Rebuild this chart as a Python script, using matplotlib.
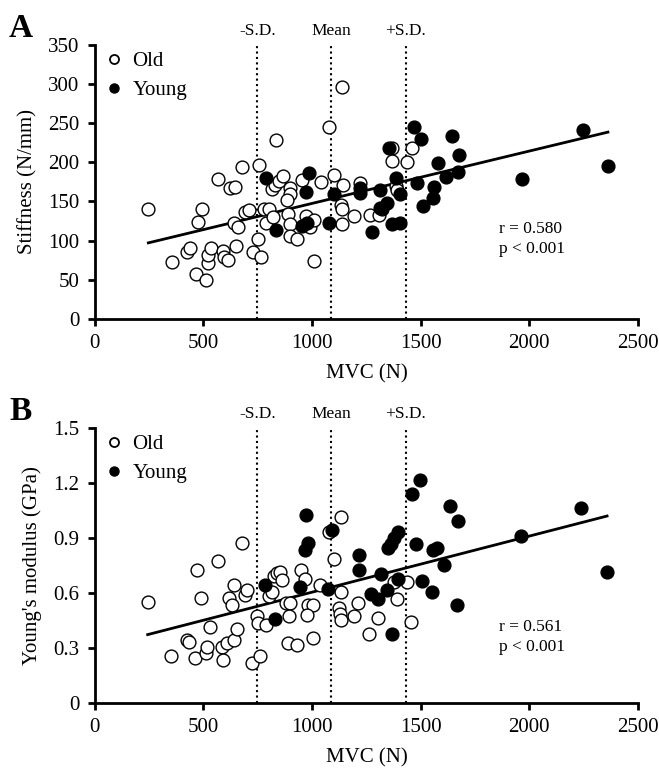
import numpy as np
import matplotlib
matplotlib.use("Agg")
import matplotlib.pyplot as plt
from matplotlib.lines import Line2D

plt.rcParams["font.family"] = ["Liberation Serif", "DejaVu Serif"]

# ---- Panel A: stiffness vs MVC ----
old_mvc_a = [246, 354, 426, 436, 466, 474, 495, 512, 519, 523, 534, 569, 589, 596, 614,
             623, 643, 639, 659, 648, 679, 693, 708, 726, 751, 754, 765, 780, 800, 789,
             818, 817, 831, 849, 866, 833, 897, 900, 885, 887, 896, 897, 932, 954, 970,
             990, 1008, 1008, 1039, 1080, 1103, 1136, 1140, 1134, 1138, 1136, 1193, 1219,
             1267, 1308, 1370, 1462, 1370, 1439, 1385, 1393]
old_stiff = [141, 73, 86, 91, 57, 124, 141, 50, 72, 82, 90, 179, 87, 79, 75,
             167, 168, 123, 118, 93, 194, 136, 139, 86, 102, 196, 79, 141, 141, 122,
             130, 166, 171, 176, 183, 228, 167, 160, 152, 134, 121, 106, 102, 178, 131,
             118, 126, 74, 175, 245, 184, 296, 171, 146, 141, 121, 131, 173,
             133, 133, 218, 218, 202, 201, 170, 165]
young_mvc_a = [788, 834, 988, 970, 954, 977, 1077, 1100, 1219, 1219, 1313, 1277, 1311,
               1320, 1347, 1370, 1405, 1385, 1405, 1354, 1470, 1500, 1642, 1677, 1580,
               1670, 1616, 1485, 1559, 1557, 1511, 2247, 2362, 1965]
young_stiff = [180, 114, 186, 162, 119, 123, 123, 159, 167, 161, 165, 111, 142,
               141, 148, 121, 122, 180, 159, 218, 245, 230, 234, 209, 199,
               188, 181, 174, 168, 154, 144, 241, 195, 179]

# ---- Panel B: Young's modulus vs MVC ----
old_mvc_b = [243, 351, 423, 435, 462, 470, 490, 512, 516, 528, 566, 585, 608, 589, 639,
             654, 616, 632, 639, 676, 690, 700, 723, 762, 746, 749, 789, 801, 816, 823,
             840, 852, 862, 880, 897, 893, 890, 930, 950, 967, 980, 1005, 977, 1003,
             1036, 1077, 1100, 1134, 1133, 1125, 1130, 1131, 1192, 1211, 1262, 1302,
             1377, 1436, 1390, 1454]
old_mod = [0.554, 0.254, 0.345, 0.333, 0.247, 0.727, 0.573, 0.272, 0.305, 0.415, 0.775,
           0.305, 0.327, 0.236, 0.345, 0.405, 0.575, 0.536, 0.645, 0.875, 0.591, 0.618,
           0.216, 0.254, 0.475, 0.435, 0.427, 0.582, 0.605, 0.695, 0.710, 0.718, 0.673,
           0.545, 0.545, 0.475, 0.327, 0.315, 0.726, 0.675, 0.536, 0.536, 0.482, 0.355,
           0.645, 0.936, 0.786, 1.015, 0.605, 0.518, 0.488, 0.452, 0.475, 0.545, 0.375,
           0.464, 0.660, 0.658, 0.567, 0.445]
young_mvc_b = [785, 827, 943, 967, 980, 974, 1074, 1090, 1214, 1214, 1315, 1270, 1305,
               1343, 1396, 1370, 1349, 1362, 1377, 1396, 1480, 1498, 1462, 1636, 1673,
               1556, 1577, 1608, 1505, 1551, 1668, 1960, 2240, 2358]
young_mod = [0.647, 0.456, 0.636, 0.836, 0.876, 1.027, 0.625, 0.945, 0.806, 0.726,
             0.706, 0.596, 0.567, 0.616, 0.675, 0.376, 0.848, 0.866, 0.900, 0.936,
             0.866, 1.218, 1.142, 1.076, 0.995, 0.838, 0.845, 0.754, 0.666, 0.605,
             0.535, 0.913, 1.067, 0.716]

# MVC reference lines (mean and +/- 1 SD)
sd_lines = [748, 1087, 1430]
sd_labels = ["-S.D.", "Mean", "+S.D."]


def draw_panel(ax, ox, oy, yx, yy, ylim, yticks, ylabel, r_txt, r_pos, letter):
    # least-squares line through all subjects
    x_all = np.array(ox + yx, dtype=float)
    y_all = np.array(oy + yy, dtype=float)
    slope, icpt = np.polyfit(x_all, y_all, 1)
    xs = np.array([x_all.min(), x_all.max()])
    ax.plot(xs, icpt + slope * xs, color="black", lw=2.0, zorder=2)

    for xv, lab in zip(sd_lines, sd_labels):
        ax.axvline(xv, color="black", lw=1.5, linestyle=(0, (1, 1.6)), zorder=1)
        ax.text(xv, ylim[1] + (ylim[1] - ylim[0]) * 0.022, lab, ha="center",
                va="bottom", fontsize=12.5)

    ax.scatter(ox, oy, s=85, facecolors="white", edgecolors="black",
               linewidths=1.0, zorder=3)
    ax.scatter(yx, yy, s=85, facecolors="black", edgecolors="black",
               linewidths=1.0, zorder=4)

    ax.set_xlim(0, 2500)
    ax.set_ylim(*ylim)
    ax.set_xticks(range(0, 2501, 500))
    ax.set_yticks(yticks)
    ax.spines["top"].set_visible(False)
    ax.spines["right"].set_visible(False)
    ax.spines["left"].set_linewidth(2)
    ax.spines["bottom"].set_linewidth(2)
    ax.tick_params(width=2, length=5, labelsize=15, pad=6)
    ax.set_xlabel("MVC (N)", fontsize=15, labelpad=8)
    ax.set_ylabel(ylabel, fontsize=15, labelpad=8)

    ax.text(r_pos[0], r_pos[1], r_txt, fontsize=12.5, va="top", ha="left",
            linespacing=1.35)

    handles = [
        Line2D([], [], marker="o", ls="", markersize=6.5, markerfacecolor="white",
               markeredgecolor="black", markeredgewidth=1.3),
        Line2D([], [], marker="o", ls="", markersize=6.5, markerfacecolor="black",
               markeredgecolor="black"),
    ]
    ax.legend(handles, ["Old", "Young"], loc="upper left", frameon=False,
              fontsize=15, handletextpad=0.3, labelspacing=0.45,
              bbox_to_anchor=(-0.015, 1.03), borderaxespad=0.3, handlelength=1.2)
    ax.text(-0.158, 1.06, letter, transform=ax.transAxes, fontsize=24,
            fontweight="bold", ha="left", va="center")


fig = plt.figure(figsize=(6.59, 7.74), dpi=100)
ax_a = fig.add_axes([0.144, 0.588, 0.824, 0.354])
ax_b = fig.add_axes([0.144, 0.0917, 0.824, 0.355])

draw_panel(ax_a, old_mvc_a, old_stiff, young_mvc_a, young_stiff, (0, 350),
           range(0, 351, 50), "Stiffness (N/mm)", "r = 0.580\np < 0.001",
           (1860, 125), "A")
draw_panel(ax_b, old_mvc_b, old_mod, young_mvc_b, young_mod, (0, 1.5),
           [0, 0.3, 0.6, 0.9, 1.2, 1.5], "Young's modulus (GPa)",
           "r = 0.561\np < 0.001", (1860, 0.458), "B")
ax_b.set_yticklabels(["0", "0.3", "0.6", "0.9", "1.2", "1.5"])

fig.savefig("out.png", dpi=100)
